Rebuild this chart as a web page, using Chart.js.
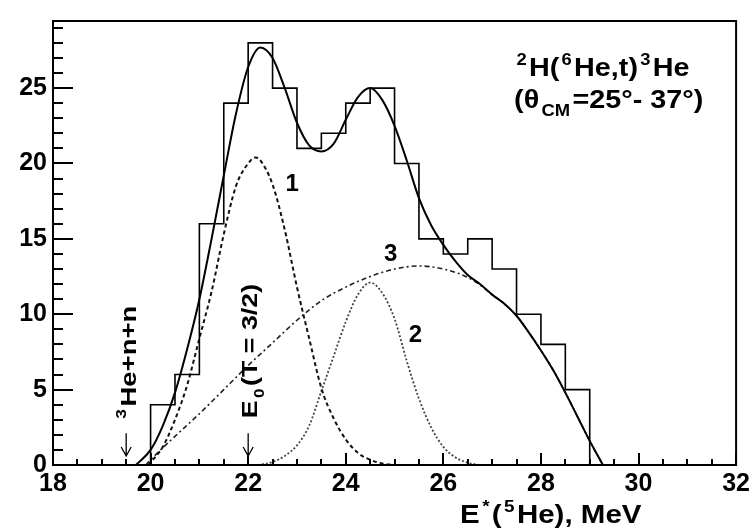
<!DOCTYPE html>
<html>
<head>
<meta charset="utf-8">
<script src="https://cdn.jsdelivr.net/npm/chart.js@4.4.0/dist/chart.umd.min.js"></script>
<style>
  html, body { margin: 0; padding: 0; background: #fff; }
</style>
</head>
<body>
<canvas id="chart" width="754" height="529"></canvas>
<script>
// histogram: 0.5 MeV bins, lower edges + counts
const binEdges = [20, 20.5, 21, 21.5, 22, 22.5, 23, 23.5, 24, 24.5, 25, 25.5, 26, 26.5, 27, 27.5, 28, 28.5, 29];
const binCounts = [4, 6, 16, 24, 28, 25, 21, 22, 24, 25, 20, 15, 14, 15, 13, 10, 8, 5];

// total fit (solid)
const totalE = [19.7, 20, 20.25, 20.5, 20.75, 21, 21.25, 21.5, 21.75, 22, 22.25, 22.5, 22.75, 23, 23.25, 23.5, 23.75, 24, 24.25, 24.5, 24.75, 25, 25.25, 25.5, 25.75, 26, 26.25, 26.5, 26.75, 27, 27.25, 27.5, 27.75, 28, 28.25, 28.5, 28.75, 29, 29.27];
const totalY = [0, 1.0, 2.6, 4.8, 7.7, 11.0, 15.0, 19.2, 23.3, 26.4, 27.7, 27.0, 25.0, 22.7, 21.2, 20.8, 21.3, 22.9, 24.4, 25.0, 24.2, 22.5, 20.2, 17.7, 15.9, 14.6, 13.5, 12.6, 12.0, 11.3, 10.7, 9.9, 8.8, 7.6, 6.3, 4.8, 3.2, 1.6, 0];

// component 1 (dashed)
const peak1E = [19.95, 20.25, 20.5, 20.75, 21, 21.25, 21.5, 21.75, 22, 22.15, 22.25, 22.5, 22.75, 23, 23.25, 23.5, 23.75, 24, 24.25, 24.5, 24.75, 25];
const peak1Y = [0, 1.2, 3.0, 5.3, 8.4, 11.5, 15.3, 18.5, 20.0, 20.4, 20.2, 18.6, 15.6, 11.8, 8.4, 5.1, 3.1, 1.7, 0.8, 0.35, 0.1, 0];

// component 2 (dotted)
const peak2E = [22.2, 22.5, 22.75, 23, 23.25, 23.5, 23.75, 24, 24.25, 24.5, 24.75, 25, 25.25, 25.5, 25.75, 26, 26.25, 26.5, 26.75];
const peak2Y = [0, 0.2, 0.6, 1.3, 2.6, 4.9, 7.2, 9.5, 11.3, 12.1, 11.4, 9.7, 6.9, 4.4, 2.5, 1.2, 0.5, 0.15, 0];

// component 3 (dash-dot, 3-body continuum)
const contE = [19.9, 20, 20.5, 21, 21.5, 22, 22.5, 23, 23.5, 24, 24.5, 25, 25.5, 26, 26.5, 26.75, 27, 27.25, 27.5, 27.75, 28, 28.25, 28.5, 28.75, 29, 29.27];
const contY = [0, 0.35, 1.9, 3.4, 5.0, 6.6, 8.1, 9.6, 10.9, 11.8, 12.5, 13.0, 13.2, 13.0, 12.45, 11.95, 11.3, 10.7, 9.9, 8.8, 7.6, 6.3, 4.8, 3.2, 1.6, 0];

// thresholds marked with arrows
const thresholdE = [19.5, 22.0];

const FONT = "'Liberation Sans', Arial, Helvetica, sans-serif";
const pts = (xs, ys) => xs.map((x, i) => ({ x, y: ys[i] }));

const histPts = [{ x: binEdges[0], y: 0 }]
  .concat(binCounts.map((c, i) => ({ x: binEdges[i], y: c })))
  .concat([{ x: binEdges[binEdges.length - 1], y: 0 }]);

// text with super/subscripts, stretched horizontally like the scanned figure
function drawRich(ctx, parts, x, y, size, stretch) {
  ctx.save();
  ctx.translate(x, y);
  ctx.scale(stretch || 1, 1);
  let cx = 0;
  parts.forEach(([t, k]) => {
    const s = k ? Math.round(size * 0.64) : size;
    ctx.font = `bold ${s}px ${FONT}`;
    const dy = k === 'sup' ? -size * 0.46 : k === 'sub' ? size * 0.3 : 0;
    if (k) cx += 2;
    ctx.fillText(t, cx, dy);
    cx += ctx.measureText(t).width + (k ? 2 : 0);
  });
  ctx.restore();
}

const decor = {
  id: 'decor',
  afterDraw(chart) {
    const { ctx, chartArea: a } = chart;
    const xs = chart.scales.x, ys = chart.scales.y;
    ctx.save();
    ctx.setLineDash([]);
    ctx.strokeStyle = '#000';
    ctx.fillStyle = '#000';
    ctx.lineWidth = 2;
    ctx.strokeRect(a.left, a.top, a.right - a.left, a.bottom - a.top);

    // inward tick marks
    for (let v = 18; v <= 32.001; v += 0.5) {
      const px = Math.round(xs.getPixelForValue(v));
      const len = v % 2 === 0 ? 12 : 6;
      ctx.fillRect(px - 1, a.bottom - len, 2, len);
    }
    for (let v = 0; v <= 29; v += 1) {
      const py = Math.round(ys.getPixelForValue(v));
      const len = v % 5 === 0 ? 20 : 10;
      ctx.fillRect(a.left, py - 1, len, 2);
    }

    // threshold arrows
    ctx.lineWidth = 1.3;
    ctx.beginPath();
    thresholdE.forEach(e => {
      const px = xs.getPixelForValue(e);
      const y0 = ys.getPixelForValue(2.1), y1 = ys.getPixelForValue(0.6);
      ctx.moveTo(px, y0); ctx.lineTo(px, y1);
      ctx.moveTo(px - 5, y1 - 9); ctx.lineTo(px, y1); ctx.lineTo(px + 5, y1 - 9);
    });
    ctx.stroke();

    ctx.textAlign = 'left';
    ctx.textBaseline = 'alphabetic';
    // rotated labels
    ctx.save();
    ctx.translate(xs.getPixelForValue(thresholdE[0]) + 10, ys.getPixelForValue(2.9));
    ctx.rotate(-Math.PI / 2);
    drawRich(ctx, [['3', 'sup'], ['He+n+n', '']], 0, 0, 22, 1.25);
    ctx.restore();

    ctx.save();
    ctx.translate(xs.getPixelForValue(thresholdE[1]) + 9, ys.getPixelForValue(3.1));
    ctx.rotate(-Math.PI / 2);
    drawRich(ctx, [['E', ''], ['0', 'sub'], ['(T = 3/2)', '']], 0, 0, 22, 1.22);
    ctx.restore();

    // component numbers
    ctx.font = `bold 24px ${FONT}`;
    ctx.textAlign = 'center';
    ctx.textBaseline = 'middle';
    ctx.fillText('1', xs.getPixelForValue(22.9), ys.getPixelForValue(18.6));
    ctx.fillText('2', xs.getPixelForValue(25.43), ys.getPixelForValue(8.6));
    ctx.fillText('3', xs.getPixelForValue(24.92), ys.getPixelForValue(14.0));

    // reaction label
    ctx.textAlign = 'left';
    ctx.textBaseline = 'alphabetic';
    drawRich(ctx, [['2', 'sup'], ['H(', ''], ['6', 'sup'], ['He,t)', ''], ['3', 'sup'], ['He', '']], a.right - 222, a.top + 55, 25, 1.15);
    drawRich(ctx, [['(\u03b8', ''], ['CM', 'sub'], ['=25\u00b0- 37\u00b0)', '']], a.right - 222, a.top + 87, 25, 1.15);

    // axis title
    drawRich(ctx, [['E', ''], ['*', 'sup'], ['(', ''], ['5', 'sup'], ['He), MeV', '']], a.right - 276, a.bottom + 58, 25, 1.18);
    ctx.restore();
  }
};

new Chart(document.getElementById('chart'), {
  type: 'line',
  data: {
    datasets: [
      { label: 'data', data: histPts, stepped: 'before', borderColor: '#000', borderWidth: 1.6, pointRadius: 0, fill: false },
      { label: 'fit', data: pts(totalE, totalY), borderColor: '#000', borderWidth: 2, pointRadius: 0, cubicInterpolationMode: 'monotone' },
      { label: '1', data: pts(peak1E, peak1Y), borderColor: '#111', borderWidth: 2, borderDash: [4, 3], pointRadius: 0, cubicInterpolationMode: 'monotone' },
      { label: '2', data: pts(peak2E, peak2Y), borderColor: '#444', borderWidth: 1.8, borderDash: [2, 2], pointRadius: 0, cubicInterpolationMode: 'monotone' },
      { label: '3', data: pts(contE, contY), borderColor: '#222', borderWidth: 1.6, borderDash: [5, 3, 2, 3], pointRadius: 0, cubicInterpolationMode: 'monotone' }
    ]
  },
  options: {
    responsive: false,
    animation: false,
    layout: { padding: { top: 8, right: 15, left: 0, bottom: 0 } },
    plugins: { legend: { display: false }, tooltip: { enabled: false } },
    scales: {
      x: {
        type: 'linear',
        min: 18, max: 32,
        grid: { display: false, drawTicks: false },
        border: { display: false },
        ticks: { stepSize: 2, padding: 4, color: '#000', font: { family: FONT, size: 25, weight: 'bold' } },
        afterFit: s => { s.height = 64; }
      },
      y: {
        type: 'linear',
        min: 0, max: 29.45,
        grid: { display: false, drawTicks: false },
        border: { display: false },
        ticks: { stepSize: 5, includeBounds: false, padding: 6, color: '#000', font: { family: FONT, size: 25, weight: 'bold' } },
        afterFit: s => { s.width = 53; }
      }
    }
  },
  plugins: [decor]
});
</script>
</body>
</html>
